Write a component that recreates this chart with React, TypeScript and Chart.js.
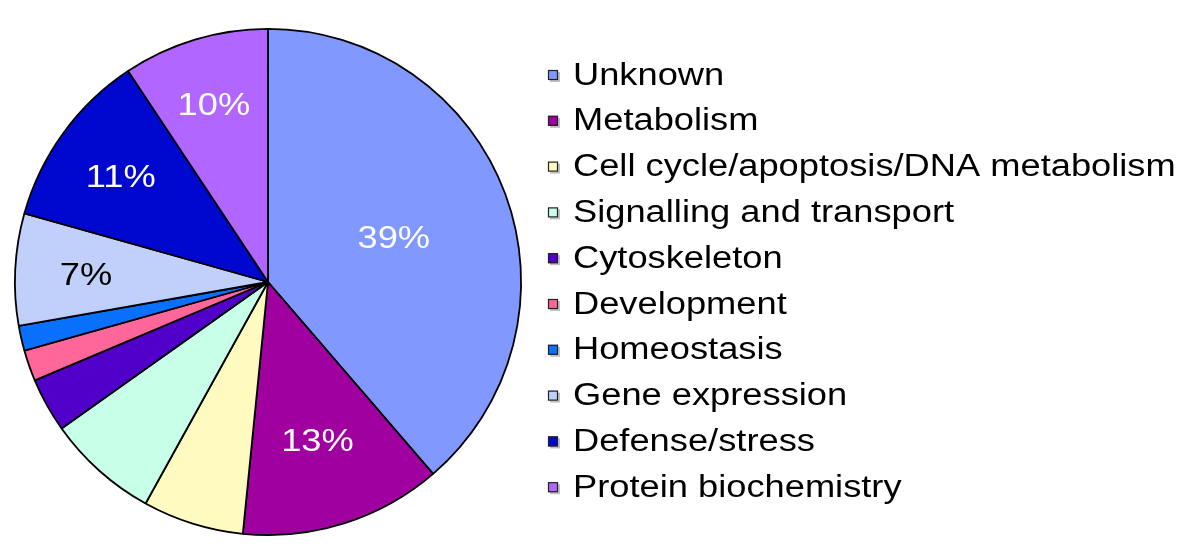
import React, { useEffect, useRef } from "react";
import { Chart, registerables } from "chart.js";

Chart.register(...registerables);

const categories = [
  "Unknown",
  "Metabolism",
  "Cell cycle/apoptosis/DNA metabolism",
  "Signalling and transport",
  "Cytoskeleton",
  "Development",
  "Homeostasis",
  "Gene expression",
  "Defense/stress",
  "Protein biochemistry",
];
const values = [39, 13, 6.5, 7.2, 3.5, 2, 1.6, 7.2, 11.4, 9.4];
const sliceLabels = ["39%", "13%", "", "", "", "", "", "7%", "11%", "10%"];
const labelColors = ["#ffffff", "#ffffff", "#000000", "#000000", "#ffffff", "#000000", "#ffffff", "#000000", "#ffffff", "#ffffff"];
const labelRadius = [0.53, 0.65, 0.7, 0.7, 0.7, 0.7, 0.7, 0.72, 0.72, 0.74];
const colors = [
  "#8098FF",
  "#A000A0",
  "#FFFAC0",
  "#C8FFE8",
  "#5000C8",
  "#FF6699",
  "#0A70FF",
  "#C0D0FA",
  "#0008D0",
  "#B066FF",
];

const FONT = "Liberation Sans, Arial, Helvetica, sans-serif";
const STRETCH = 1.17;

function drawStretched(ctx: CanvasRenderingContext2D, text: string, x: number, y: number, align: "left" | "center") {
  ctx.save();
  ctx.translate(x, y);
  ctx.scale(STRETCH, 1);
  ctx.textAlign = align;
  ctx.fillText(text, 0, 0);
  ctx.restore();
}

const sliceLabelPlugin = {
  id: "sliceLabels",
  afterDatasetsDraw(chart: any) {
    const meta = chart.getDatasetMeta(0);
    const ctx = chart.ctx;
    ctx.save();
    ctx.font = `31px ${FONT}`;
    ctx.textBaseline = "middle";
    meta.data.forEach((arc: any, i: number) => {
      const text = sliceLabels[i];
      if (!text) return;
      const { x, y, startAngle, endAngle, outerRadius } = arc.getProps(
        ["x", "y", "startAngle", "endAngle", "outerRadius"],
        true
      );
      const mid = (startAngle + endAngle) / 2;
      const r = outerRadius * labelRadius[i];
      ctx.fillStyle = labelColors[i];
      drawStretched(ctx, text, x + Math.cos(mid) * r, y + Math.sin(mid) * r + 4, "center");
    });
    ctx.restore();
  },
};

const legendPlugin = {
  id: "customLegend",
  afterDraw(chart: any) {
    const ctx = chart.ctx;
    const x0 = 548;
    const y0 = 75;
    const step = 45.8;
    const box = 10;
    ctx.save();
    ctx.font = `31px ${FONT}`;
    ctx.textBaseline = "middle";
    categories.forEach((name, i) => {
      const cy = y0 + i * step;
      const bx = x0;
      const by = cy - box / 2;
      ctx.fillStyle = "rgba(0,0,0,0.25)";
      ctx.fillRect(bx + 2, by + 2, box, box);
      ctx.fillStyle = colors[i];
      ctx.fillRect(bx, by, box, box);
      ctx.strokeStyle = "#222";
      ctx.lineWidth = 1.2;
      ctx.strokeRect(bx + 0.5, by + 0.5, box - 1, box - 1);
      ctx.fillStyle = "#000";
      drawStretched(ctx, name, 573, cy + 1, "left");
    });
    ctx.restore();
  },
};

export default function App() {
  const ref = useRef<HTMLCanvasElement | null>(null);
  useEffect(() => {
    if (!ref.current) return;
    const chart = new Chart(ref.current, {
      type: "pie",
      data: {
        labels: categories,
        datasets: [
          {
            data: values,
            backgroundColor: colors,
            borderColor: "#000000",
            borderWidth: 1.8,
          },
        ],
      },
      options: {
        animation: false,
        responsive: false,
        maintainAspectRatio: false,
        layout: { padding: { left: 14, top: 28, right: 678, bottom: 19 } },
        plugins: {
          legend: { display: false },
          tooltip: { enabled: false },
        },
      },
      plugins: [sliceLabelPlugin, legendPlugin],
    });
    return () => chart.destroy();
  }, []);
  return (
    <div style={{ position: "fixed", left: 0, top: 0, width: 1200, height: 555, background: "#fff" }}>
      <canvas ref={ref} width={1200} height={555} style={{ display: "block" }} />
    </div>
  );
}
